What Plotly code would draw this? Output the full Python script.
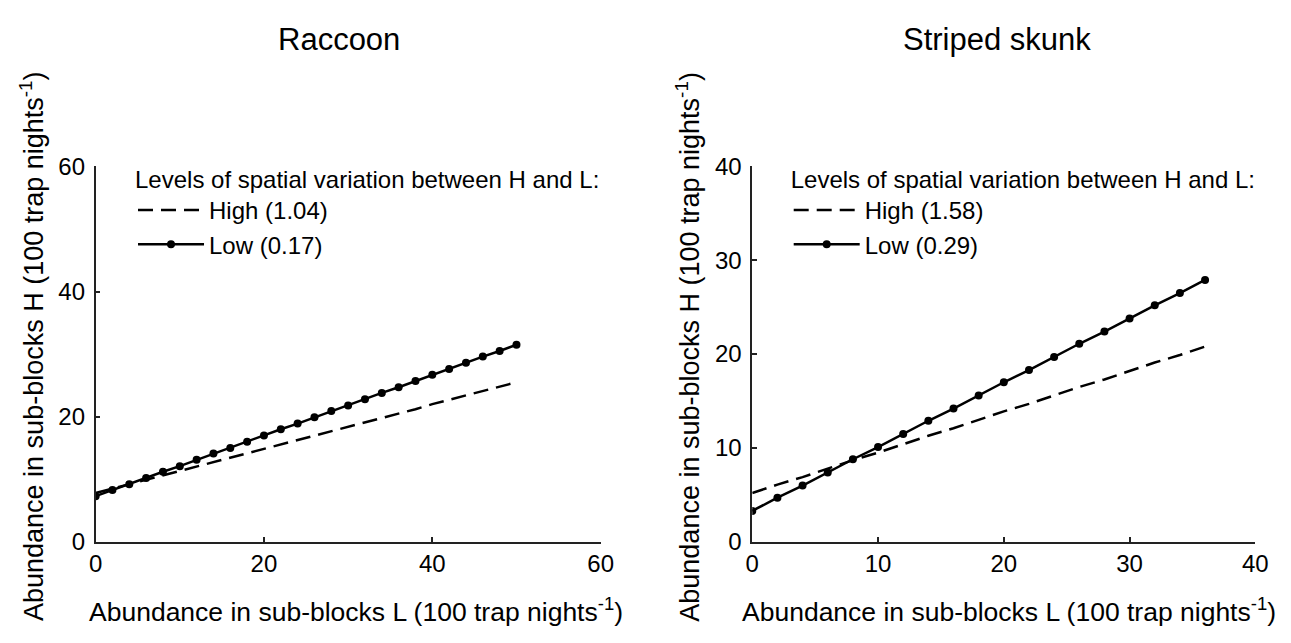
import plotly.graph_objects as go

# ---------------- data ----------------
raccoon_L = [0, 2, 4, 6, 8, 10, 12, 14, 16, 18, 20, 22, 24, 26, 28, 30, 32, 34, 36, 38, 40, 42, 44, 46, 48, 50]
raccoon_high = [7.8, 8.5, 9.2, 9.9, 10.6, 11.3, 12.0, 12.8, 13.5, 14.2, 14.9, 15.6, 16.3, 17.0, 17.7,
                18.4, 19.1, 19.8, 20.5, 21.2, 22.0, 22.7, 23.4, 24.1, 24.8, 25.5]
raccoon_low = [7.3, 8.3, 9.2, 10.2, 11.2, 12.1, 13.1, 14.1, 15.0, 16.0, 17.0, 18.0, 18.9, 19.9, 20.9,
               21.8, 22.8, 23.8, 24.7, 25.7, 26.7, 27.6, 28.6, 29.6, 30.5, 31.5]

skunk_L = [0, 2, 4, 6, 8, 10, 12, 14, 16, 18, 20, 22, 24, 26, 28, 30, 32, 34, 36]
skunk_high = [5.2, 6.1, 6.9, 7.8, 8.7, 9.5, 10.4, 11.3, 12.1, 13.0, 13.9, 14.7, 15.6, 16.5, 17.3,
              18.2, 19.1, 19.9, 20.8]
skunk_low = [3.3, 4.7, 6.0, 7.4, 8.8, 10.1, 11.5, 12.9, 14.2, 15.6, 17.0, 18.3, 19.7, 21.1, 22.4,
             23.8, 25.2, 26.5, 27.9]

panel_titles = ["Raccoon", "Striped skunk"]
raccoon_labels = ["High (1.04)", "Low (0.17)"]
skunk_labels = ["High (1.58)", "Low (0.29)"]
legend_title = "Levels of spatial variation between H and L:"
x_title = "Abundance in sub-blocks L (100 trap nights<sup>-1</sup>)"
y_title = "Abundance in sub-blocks H (100 trap nights<sup>-1</sup>)"
raccoon_ticks = [0, 20, 40, 60]
skunk_ticks = [0, 10, 20, 30, 40]

# ---------------- style ----------------
FONT = "Liberation Sans, Arial, sans-serif"
BLACK = "#000000"
AXIS = "#222222"
W, H = 1291, 643
TICK_SIZE = 24
AXT_SIZE = 26.5
LEG_SIZE = 24
TITLE_SIZE = 31

fig = go.Figure()

def add_pair(xs, hi, lo, labels, xa, ya, leg):
    fig.add_trace(go.Scatter(
        x=xs, y=hi, mode="lines", name=labels[0], xaxis=xa, yaxis=ya, legend=leg,
        line=dict(color=BLACK, width=2.5, dash="15px,8px")))
    fig.add_trace(go.Scatter(
        x=xs, y=lo, mode="lines+markers", name=labels[1], xaxis=xa, yaxis=ya, legend=leg,
        line=dict(color=BLACK, width=2.5),
        marker=dict(color=BLACK, size=8, symbol="circle")))

add_pair(raccoon_L, raccoon_high, raccoon_low, raccoon_labels, "x", "y", "legend")
add_pair(skunk_L, skunk_high, skunk_low, skunk_labels, "x2", "y2", "legend2")

ydom = [(H - 551) / H, (H - 159) / H]
common_axis = dict(showgrid=False, zeroline=False, showline=True, linecolor=AXIS, linewidth=1.5,
                   ticks="inside", ticklen=5, tickwidth=1.5, tickcolor=AXIS,
                   tickfont=dict(family=FONT, size=TICK_SIZE, color=BLACK), mirror=False)

def legend_cfg(xpx):
    return dict(x=xpx / W, y=(H - 149) / H, xanchor="left", yanchor="top",
                bgcolor="rgba(0,0,0,0)", font=dict(family=FONT, size=LEG_SIZE, color=BLACK),
                title=dict(text=legend_title, font=dict(family=FONT, size=LEG_SIZE, color=BLACK)),
                itemwidth=66, tracegroupgap=0)

def ann(text, xpx, ypx, size, angle=0):
    return dict(text=text, x=xpx / W, y=(H - ypx) / H, xref="paper", yref="paper",
                showarrow=False, xanchor="center", yanchor="middle", textangle=angle,
                font=dict(family=FONT, size=size, color=BLACK))

fig.update_layout(
    width=W, height=H, margin=dict(l=0, r=0, t=0, b=0),
    paper_bgcolor="white", plot_bgcolor="white",
    font=dict(family=FONT, color=BLACK),
    xaxis=dict(common_axis, domain=[90 / W, 603 / W], range=[0, 60], tickvals=raccoon_ticks, anchor="y"),
    yaxis=dict(common_axis, domain=ydom, range=[0, 60], tickvals=raccoon_ticks, anchor="x",
               ticklabelstandoff=4),
    xaxis2=dict(common_axis, domain=[757 / W, 1268 / W], range=[0, 40], tickvals=skunk_ticks, anchor="y2"),
    yaxis2=dict(common_axis, domain=ydom, range=[0, 40], tickvals=skunk_ticks, anchor="x2",
                ticklabelstandoff=4),
    legend=legend_cfg(128),
    legend2=legend_cfg(794),
    showlegend=True,
    annotations=[
        ann(panel_titles[0], 337, 27, TITLE_SIZE),
        ann(panel_titles[1], 1006, 27, TITLE_SIZE),
        ann(x_title, 354, 622, AXT_SIZE),
        ann(x_title, 1018, 622, AXT_SIZE),
        ann(y_title, 26, 347, 27, -90),
        ann(y_title, 692, 347, 27, -90),
    ],
)

fig.write_html("out.html", config={"displayModeBar": False},
               post_script="document.body.style.margin='0';")
